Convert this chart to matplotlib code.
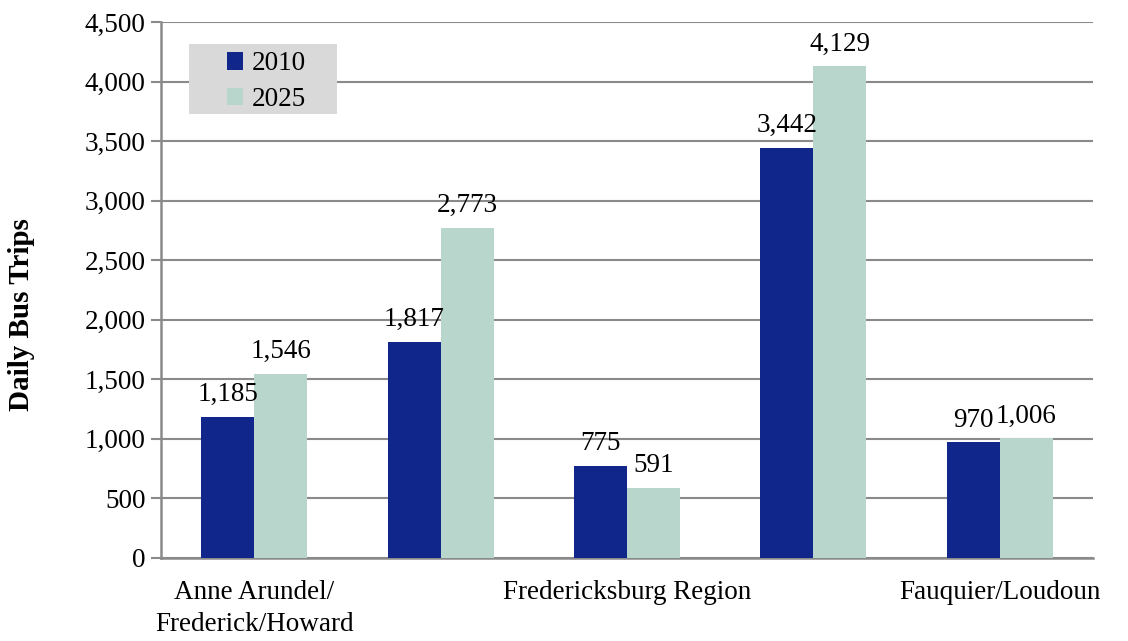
import matplotlib
matplotlib.use("Agg")
import matplotlib.pyplot as plt
from matplotlib.patches import Rectangle
import numpy as np

categories = ["Anne Arundel/\nFrederick/Howard", "", "Fredericksburg Region", "", "Fauquier/Loudoun"]
series_names = ["2010", "2025"]
values_2010 = [1185, 1817, 775, 3442, 970]
values_2025 = [1546, 2773, 591, 4129, 1006]
yticks = [0, 500, 1000, 1500, 2000, 2500, 3000, 3500, 4000, 4500]

c_dark = "#10268A"
c_light = "#B8D6CB"
grid_c = "#8A8A8A"
FS = 19.5

plt.rcParams['font.family'] = ['Liberation Serif', 'DejaVu Serif']

fig = plt.figure(figsize=(11.28, 6.41), dpi=100)
ax = fig.add_axes([0.1427, 0.1295, 0.969 - 0.1427, 0.9657 - 0.1295])

x = np.arange(len(categories))
w = 0.284
b1 = ax.bar(x - w / 2, values_2010, w, color=c_dark, label=series_names[0], zorder=3)
b2 = ax.bar(x + w / 2, values_2025, w, color=c_light, label=series_names[1], zorder=3)

for bars, vals in ((b1, values_2010), (b2, values_2025)):
    for r, v in zip(bars, vals):
        ax.annotate(f"{v:,}", (r.get_x() + r.get_width() / 2, r.get_height()),
                    xytext=(0, 7), textcoords="offset points", ha="center", va="bottom",
                    fontsize=FS, zorder=5)

ax.set_xlim(-0.5, len(categories) - 0.5)
ax.set_ylim(0, 4500)
ax.set_yticks(yticks)
ax.set_yticklabels([f"{t:,}" for t in yticks], fontsize=FS)
ax.set_xticks(x)
ax.set_xticklabels(categories, fontsize=FS, linespacing=1.35)
ax.tick_params(axis="x", length=0, pad=16)
ax.tick_params(axis="y", length=7, width=1.5, color=grid_c, pad=4)

ax.yaxis.grid(True, color=grid_c, linewidth=1.5, zorder=0)
ax.set_axisbelow(True)
for s in ("top", "right"):
    ax.spines[s].set_visible(False)
for s in ("left", "bottom"):
    ax.spines[s].set_color(grid_c)
    ax.spines[s].set_linewidth(1.8)

ax.set_ylabel("Daily Bus Trips", fontsize=21, fontweight="bold")
ax.yaxis.set_label_coords(-0.135, 0.455)

# legend background box
ax.add_patch(Rectangle((0.030, 0.828), 0.159, 0.131, transform=ax.transAxes,
                       facecolor="#D9D9D9", edgecolor="none", zorder=5))
leg = ax.legend(loc="upper left", bbox_to_anchor=(0.071, 0.945), fontsize=FS,
                frameon=False, handlelength=0.6, handleheight=0.6,
                handletextpad=0.3, labelspacing=0.38, borderpad=0,
                borderaxespad=0)
leg.set_zorder(6)

fig.savefig("out.png", dpi=100)
